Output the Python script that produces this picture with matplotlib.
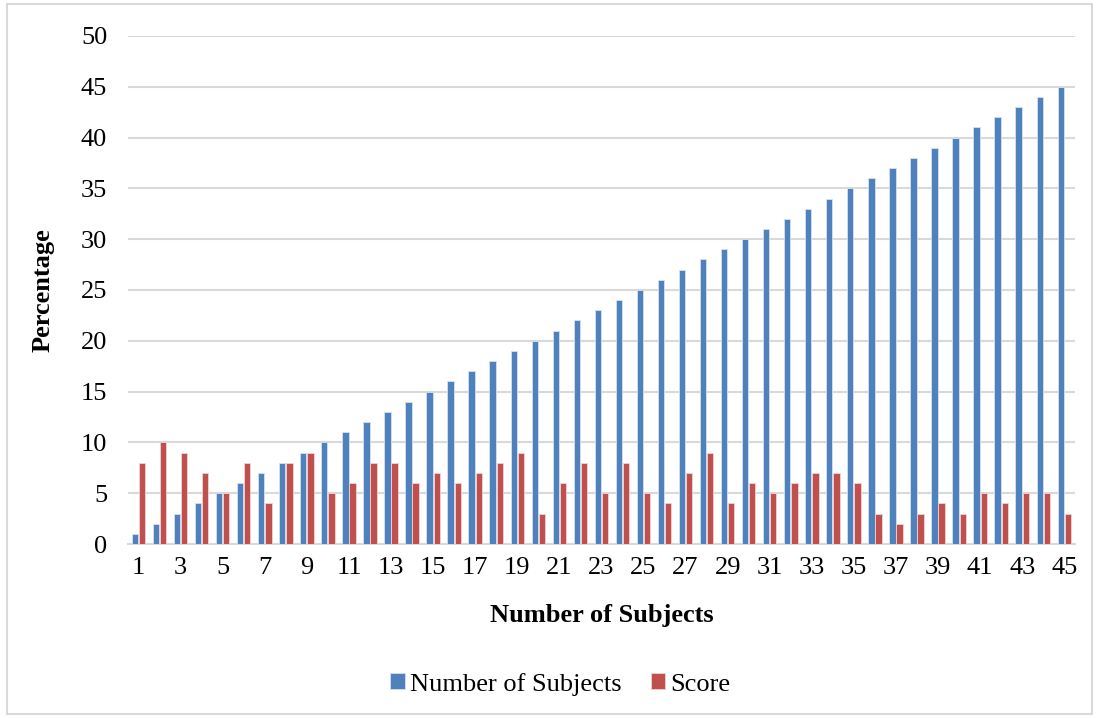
import numpy as np
import matplotlib.pyplot as plt
from matplotlib.patches import Rectangle

subjects = list(range(1, 46))
n_subjects = list(range(1, 46))
score = [8, 10, 9, 7, 5, 8, 4, 8, 9, 5, 6, 8, 8, 6, 7, 6, 7, 8, 9, 3,
         6, 8, 5, 8, 5, 4, 7, 9, 4, 6, 5, 6, 7, 7, 6, 3, 2, 3, 4, 3,
         5, 4, 5, 5, 3]
tick_labels = [str(s) if s % 2 == 1 else "" for s in subjects]

plt.rcParams['font.family'] = ['Liberation Serif', 'DejaVu Serif']

fig = plt.figure(figsize=(10.99, 7.18), dpi=100)
ax = fig.add_axes([0.1165, 0.2423, 0.8615, 0.7077])

x = np.arange(len(subjects))
w = 0.3
ax.bar(x - w / 2 - 0.02, n_subjects, width=w, color="#4F81BD",
       edgecolor="#d6e1ef", linewidth=0.6, label="Number of Subjects", zorder=3)
ax.bar(x + w / 2 + 0.02, score, width=w, color="#C0504D",
       edgecolor="#f0d5d4", linewidth=0.6, label="Score", zorder=3)

ax.set_xlim(-0.5, len(subjects) - 0.5)
ax.set_ylim(0, 50)
ax.set_yticks(range(0, 51, 5))
ax.set_xticks(x)
ax.set_xticklabels(tick_labels)
ax.tick_params(axis="both", length=0, labelsize=19, colors="black")
ax.tick_params(axis="x", pad=9)
ax.tick_params(axis="y", pad=15)
ax.yaxis.grid(True, color="#d9d9d9", linewidth=1.5, zorder=0)
for s in ["top", "right", "left"]:
    ax.spines[s].set_visible(False)
ax.spines["bottom"].set_color("#d9d9d9")
ax.spines["bottom"].set_linewidth(1.5)

ax.set_xlabel("Number of Subjects", fontsize=19, fontweight="bold", labelpad=18)
ax.set_ylabel("Percentage", fontsize=19, fontweight="bold")
ax.yaxis.set_label_coords(-0.078, 0.5)

leg = fig.legend(loc="center", bbox_to_anchor=(0.51, 0.047), ncol=2,
                 frameon=False, fontsize=19, handlelength=0.55, handleheight=0.55,
                 handletextpad=0.2, columnspacing=1.1)

fig.patches.append(Rectangle((0.006, 0.006), 0.988, 0.988, transform=fig.transFigure,
                             fill=False, edgecolor="#d9d9d9", linewidth=1.5))

fig.savefig("out.png", dpi=100)
